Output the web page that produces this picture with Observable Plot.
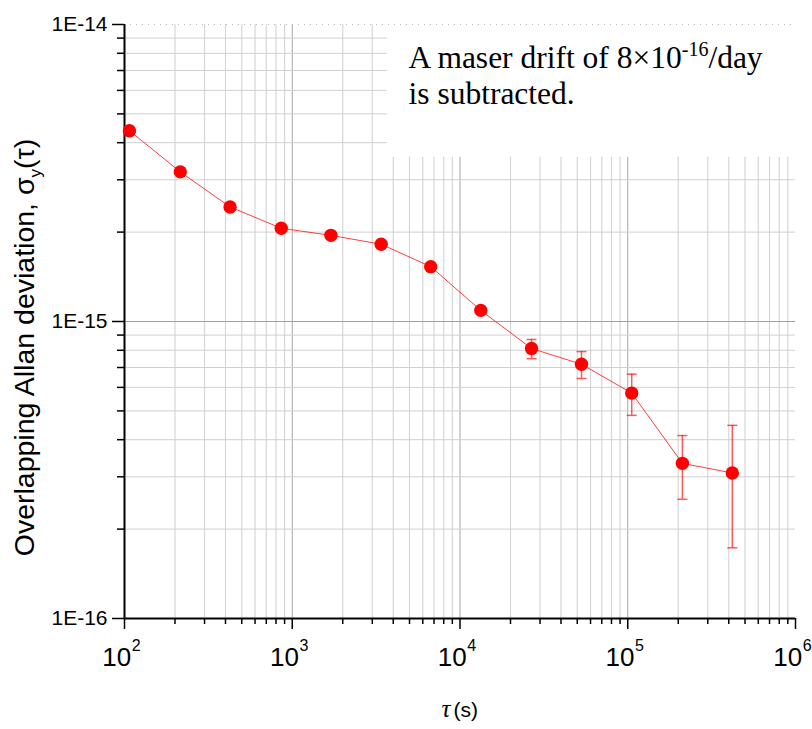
<!DOCTYPE html>
<html>
<head>
<meta charset="utf-8">
<script src="https://cdn.jsdelivr.net/npm/d3@7"></script>
<script src="https://cdn.jsdelivr.net/npm/@observablehq/plot@0.6"></script>
<style>
  body { margin: 0; background: #fff; }
</style>
</head>
<body>
<div id="chart"></div>
<script>
// ---- data ----
const tau = [107, 215, 426, 860, 1700, 3390, 6690, 13300, 26700, 53000, 105600, 211700, 420000];
const sigma = [4.39e-15, 3.19e-15, 2.43e-15, 2.06e-15, 1.95e-15, 1.82e-15, 1.53e-15, 1.09e-15,
               8.11e-16, 7.18e-16, 5.74e-16, 3.33e-16, 3.09e-16];
const sigmaLow  = [null, null, null, null, null, null, null, null, 7.50e-16, 6.43e-16, 4.83e-16, 2.52e-16, 1.73e-16];
const sigmaHigh = [null, null, null, null, null, null, null, null, 8.70e-16, 7.92e-16, 6.65e-16, 4.13e-16, 4.47e-16];

const xMajorTicks = [1e2, 1e3, 1e4, 1e5, 1e6];
const xTickExponents = ["2", "3", "4", "5", "6"];
const yMajorTicks = [1e-16, 1e-15, 1e-14];
const yTickLabels = ["1E-16", "1E-15", "1E-14"];

const noteLine1 = "A maser drift of 8×10";
const noteSup = "-16";
const noteLine1End = "/day";
const noteLine2 = "is subtracted.";
const yTitle = "Overlapping Allan deviation, σ";
const yTitleSub = "y";
const yTitleEnd = "(τ)";
const xTitleSymbol = "τ";
const xTitleUnit = "(s)";

// white box behind the note (in data units)
const noteBox = [{x1: 3678, x2: 1e6, y1: 3.573e-15, y2: 1e-14}];

// ---- derived ----
const rows = tau.map((t, i) => ({tau: t, sigma: sigma[i], lo: sigmaLow[i], hi: sigmaHigh[i]}));
const errRows = rows.filter(d => d.lo != null);

const xMinor = [];
for (let e = 2; e < 6; e++) for (let m = 2; m <= 9; m++) xMinor.push(m * 10 ** e);
const yMinor = [];
for (let e = -16; e < -14; e++) for (let m = 2; m <= 9; m++) yMinor.push(+(m * 10 ** e).toPrecision(3));

const cap = { draw(ctx) { ctx.moveTo(-5, 0); ctx.lineTo(5, 0); } };
const red = "#ff0000";
const sans = "'Liberation Sans', Arial, sans-serif";
const serif = "'Liberation Serif', 'Times New Roman', serif";

const chart = Plot.plot({
  width: 812,
  height: 729,
  marginLeft: 124,
  marginRight: 17,
  marginTop: 24,
  marginBottom: 111,
  x: {type: "log", domain: [1e2, 1e6]},
  y: {type: "log", domain: [1e-16, 1e-14]},
  style: {background: "white", fontFamily: sans, color: "black"},
  marks: [
    // grid
    Plot.ruleX(xMinor, {stroke: "#d6d6d6", strokeWidth: 1.2}),
    Plot.ruleX(xMajorTicks.slice(1, -1), {stroke: "#a6a6a6", strokeWidth: 1}),
    Plot.ruleY(yMinor, {stroke: "#d0d0d0", strokeWidth: 1}),
    Plot.ruleY([1e-15], {stroke: "#a0a0a0", strokeWidth: 1}),
    // white note box
    Plot.rect(noteBox, {x1: "x1", x2: "x2", y1: "y1", y2: "y2", fill: "white"}),
    Plot.ruleY([1e-14], {stroke: "#bbbbbb", strokeDasharray: "1,5"}),
    // axes
    Plot.axisY(yMajorTicks, {tickSize: 12, tickPadding: 5, strokeWidth: 1.5, fontSize: 21,
      tickFormat: (d) => yTickLabels[yMajorTicks.indexOf(d)], label: null}),
    Plot.axisY(yMinor, {tickSize: 7, strokeWidth: 1.5, tickFormat: () => "", label: null}),
    Plot.axisX(xMajorTicks, {tickSize: 11, tickPadding: 18, strokeWidth: 1.5, fontSize: 26,
      tickFormat: () => "10", label: null}),
    Plot.axisX(xMinor, {tickSize: 6, strokeWidth: 1.5, tickFormat: () => "", label: null}),
    Plot.ruleX([1e2], {stroke: "black", strokeWidth: 2}),
    Plot.ruleY([1e-16], {stroke: "black", strokeWidth: 2}),
    // data
    Plot.line(rows, {x: "tau", y: "sigma", stroke: red, strokeOpacity: 0.75, strokeWidth: 1}),
    Plot.ruleX(errRows, {x: "tau", y1: "lo", y2: "hi", stroke: red, strokeOpacity: 0.65, strokeWidth: 1.5}),
    Plot.dot(errRows, {x: "tau", y: "lo", symbol: cap, stroke: red, strokeOpacity: 0.65, strokeWidth: 1.5}),
    Plot.dot(errRows, {x: "tau", y: "hi", symbol: cap, stroke: red, strokeOpacity: 0.65, strokeWidth: 1.5}),
    Plot.dot(rows, {x: "tau", y: "sigma", r: 6.7, fill: red, stroke: "none"}),
    // note
    Plot.text([noteLine1], {frameAnchor: "top-left", dx: 284, dy: 43, lineAnchor: "bottom",
      textAnchor: "start", fontSize: 31.5, fontFamily: serif, fill: "black"}),
    Plot.text([noteLine2], {frameAnchor: "top-left", dx: 284, dy: 79, lineAnchor: "bottom",
      textAnchor: "start", fontSize: 31.5, fontFamily: serif, fill: "black"}),
    // axis titles
    Plot.text([yTitle], {frameAnchor: "left", rotate: -90, dx: -100, dy: 26, textAnchor: "middle",
      lineAnchor: "middle", fontSize: 28.5, fontFamily: sans, fill: "black"}),
    Plot.text([xTitleSymbol], {frameAnchor: "bottom", dx: -9.5, dy: 98, lineAnchor: "bottom",
      textAnchor: "end", fontSize: 25, fontStyle: "italic", fontFamily: serif, fill: "black"}),
    Plot.text([xTitleUnit], {frameAnchor: "bottom", dx: -6.5, dy: 98, lineAnchor: "bottom",
      textAnchor: "start", fontSize: 21, fontFamily: sans, fill: "black"})
  ]
});

// superscripts / subscripts (added to the library's own text elements)
const svg = d3.select(chart);
const texts = svg.selectAll("text");
texts.filter(function() { return this.textContent === "10"; }).each(function(d, i) {
  d3.select(this).attr("dx", -3)
    .append("tspan").attr("font-size", 16).attr("dy", -15).attr("dx", 0.5).text(xTickExponents[i]);
});
texts.filter(function() { return this.textContent === noteLine1; }).each(function() {
  const t = d3.select(this);
  t.append("tspan").attr("font-size", 20).attr("dy", -12).text(noteSup);
  t.append("tspan").attr("dy", 12).text(noteLine1End);
});
texts.filter(function() { return this.textContent === yTitle; }).each(function() {
  const t = d3.select(this);
  t.append("tspan").attr("font-size", 17).attr("dy", 7).text(yTitleSub);
  t.append("tspan").attr("dy", -7).text(yTitleEnd);
});

document.getElementById("chart").appendChild(chart);
</script>
</body>
</html>
